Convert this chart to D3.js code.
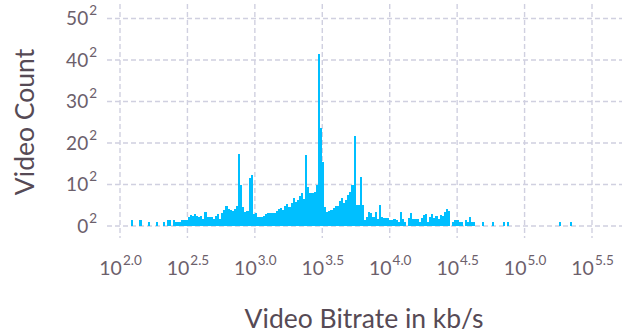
<!DOCTYPE html>
<html><head><meta charset="utf-8">
<script src="https://cdn.jsdelivr.net/npm/d3@7"></script>
<style>body{margin:0;background:#fff} svg{display:block}</style>
</head><body><svg id="c" width="630" height="336"></svg>
<script>
// Histogram bins on log10(bitrate): start and width of bins (log10 kb/s)
const binLog10Start = 2.0816;
const binLog10Width = 0.01557;
const counts = [
  2,0,0,0,2,0,0,0,1,0,
  0,0,1,0,0,1,0,2,2,0,
  2,1,1,1,2,2,2,5,7,6,
  8,6,5,6,3,11,5,5,5,3,
  6,8,3,10,15,23,17,15,13,17,
  23,301,98,21,11,13,134,151,8,10,
  5,5,5,6,8,10,10,10,10,13,
  17,19,15,23,28,21,31,46,34,40,
  52,63,42,293,88,63,62,69,98,1718,
  557,238,21,11,13,15,19,23,23,36,
  46,31,39,57,66,98,470,26,26,139,
  26,2,5,11,10,5,11,3,26,5,
  4,4,4,2,2,3,2,1,12,3,
  1,0,4,10,3,3,3,1,4,7,
  8,1,5,8,4,6,3,7,6,11,
  17,13,0,1,2,2,1,1,0,2,
  1,5,1,1,0,0,0,1,0,0,
  0,0,1,0,0,0,0,1,0,1,
  0,0,0,0,0,0,0,0,0,0,
  0,0,0,0,0,0,0,0,0,0,
  0,0,0,0,1,0,0,0,0,1
];
const xTickExponents = ["2.0","2.5","3.0","3.5","4.0","4.5","5.0","5.5"];
const yTickRoots = [0,10,20,30,40,50];
const xTitle = "Video Bitrate in kb/s";
const yTitle = "Video Count";

const FONT = "Lato, 'Open Sans', sans-serif";
const svg = d3.select("#c");
const panel = {left:107, right:622, top:4, bottom:238};
const x = d3.scaleLog().domain([Math.pow(10,2), Math.pow(10,5.5)]).range([120, 592]);
const y = d3.scaleSqrt().domain([0, 2500]).range([226, 18.5]);

const gridColor = "#D0D0E0";
// grid
const gGrid = svg.append("g");
gGrid.selectAll("line.h").data(yTickRoots).join("line")
  .attr("x1", panel.left).attr("x2", panel.right)
  .attr("y1", d => y(d*d)).attr("y2", d => y(d*d))
  .attr("stroke", gridColor).attr("stroke-width", 1.4).attr("stroke-dasharray", "5,3");
gGrid.selectAll("line.v").data(xTickExponents).join("line")
  .attr("x1", d => x(Math.pow(10,+d))).attr("x2", d => x(Math.pow(10,+d)))
  .attr("y1", panel.top).attr("y2", panel.bottom)
  .attr("stroke", gridColor).attr("stroke-width", 1.4).attr("stroke-dasharray", "5,3");

// bars
const bins = counts.map((c,i) => ({
  x0: Math.pow(10, binLog10Start + i*binLog10Width),
  x1: Math.pow(10, binLog10Start + (i+1)*binLog10Width),
  c
})).filter(d => d.c > 0);
svg.append("g").attr("shape-rendering","crispEdges")
  .selectAll("rect").data(bins).join("rect")
  .attr("x", d => x(d.x0))
  .attr("width", d => x(d.x1) - x(d.x0))
  .attr("y", d => y(d.c))
  .attr("height", d => y(0) - y(d.c))
  .attr("fill", "#00BFFF");

// x axis
const xAxis = d3.axisBottom(x)
  .tickValues(xTickExponents.map(e => Math.pow(10,+e)))
  .tickSize(0).tickFormat(() => "");
const gx = svg.append("g").attr("transform", "translate(0,262)").call(xAxis);
gx.select(".domain").remove();
gx.selectAll(".tick text").each(function(d, i) {
  const t = d3.select(this).attr("y", 0).attr("dy", "13px")
    .attr("fill", "#6C606B").style("font-family", FONT).attr("text-anchor","middle");
  t.append("tspan").style("font-size","19.5px").text("10");
  t.append("tspan").style("font-size","13.5px").attr("dy","-10px").attr("dx","1px").text(xTickExponents[i]);
});

// y axis
const yAxis = d3.axisLeft(y).tickValues(yTickRoots.map(r => r*r)).tickSize(0).tickFormat(() => "");
const gy = svg.append("g").attr("transform", "translate(97,0)").call(yAxis);
gy.select(".domain").remove();
gy.selectAll(".tick text").each(function(d, i) {
  const t = d3.select(this).attr("x", 0).attr("dy", "6px")
    .attr("fill", "#6C606B").style("font-family", FONT).attr("text-anchor","end");
  t.append("tspan").style("font-size","19px").text(String(yTickRoots[i]));
  t.append("tspan").style("font-size","13.5px").attr("dy","-10px").attr("dx","1px").text("2");
});

// titles
svg.append("text").attr("x", 364).attr("y", 328).attr("text-anchor","middle")
  .style("font-family", FONT).style("font-size","26.5px").attr("fill","#564A55").text(xTitle);
svg.append("text").attr("transform","translate(34,122) rotate(-90)").attr("text-anchor","middle")
  .style("font-family", FONT).style("font-size","26.5px").attr("fill","#564A55").text(yTitle);
</script></body></html>
